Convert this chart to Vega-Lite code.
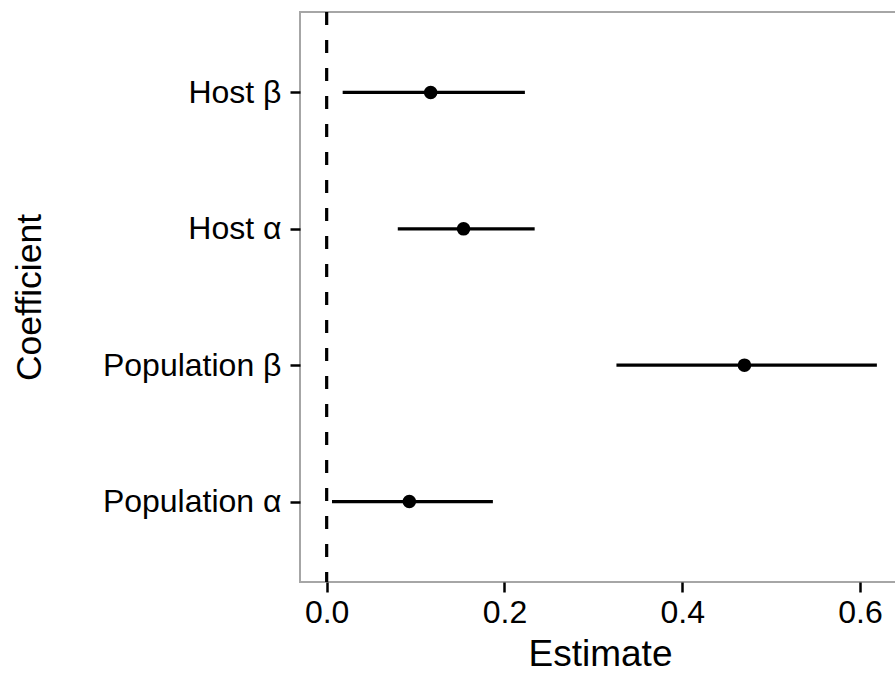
{
  "$schema": "https://vega.github.io/schema/vega-lite/v6.json",
  "autosize": "none",
  "width": 600,
  "height": 570,
  "padding": {"left": 300, "top": 12, "right": 0, "bottom": 91},
  "background": "white",
  "config": {
    "view": {"stroke": "#a6a6a6", "strokeWidth": 2},
    "font": "Liberation Sans",
    "axis": {
      "domain": false,
      "grid": false,
      "tickColor": "black",
      "tickWidth": 2.5,
      "tickSize": 10,
      "labelColor": "black",
      "labelFont": "Liberation Sans",
      "labelFontSize": 32,
      "titleFont": "Liberation Sans",
      "titleFontWeight": "normal",
      "titleColor": "black"
    }
  },
  "data": {
    "values": [
      {"coef": "Host β", "est": 0.117, "lo": 0.018, "hi": 0.223},
      {"coef": "Host α", "est": 0.154, "lo": 0.080, "hi": 0.234},
      {"coef": "Population β", "est": 0.470, "lo": 0.326, "hi": 0.619},
      {"coef": "Population α", "est": 0.093, "lo": 0.006, "hi": 0.187}
    ]
  },
  "encoding": {
    "y": {
      "field": "coef",
      "type": "nominal",
      "sort": ["Host β", "Host α", "Population β", "Population α"],
      "scale": {"type": "point", "padding": 0.59},
      "axis": {"title": "Coefficient", "labelPadding": 9, "titlePadding": 55, "titleFontSize": 35.5}
    }
  },
  "layer": [
    {
      "data": {"values": [{"ref": 0}]},
      "mark": {"type": "rule", "color": "black", "strokeWidth": 3.2, "strokeDash": [13, 15]},
      "encoding": {
        "x": {"field": "ref", "type": "quantitative"},
        "y": null
      }
    },
    {
      "mark": {"type": "rule", "color": "black", "strokeWidth": 3.2},
      "encoding": {
        "x": {
          "field": "lo",
          "type": "quantitative",
          "scale": {"domain": [-0.03, 0.645], "nice": false, "zero": false},
          "axis": {"title": "Estimate", "values": [0, 0.2, 0.4, 0.6], "format": ".1f", "labelPadding": 5, "titlePadding": 8, "titleFontSize": 37}
        },
        "x2": {"field": "hi"}
      }
    },
    {
      "mark": {"type": "circle", "color": "black", "opacity": 1, "size": 185},
      "encoding": {
        "x": {"field": "est", "type": "quantitative"}
      }
    }
  ]
}
